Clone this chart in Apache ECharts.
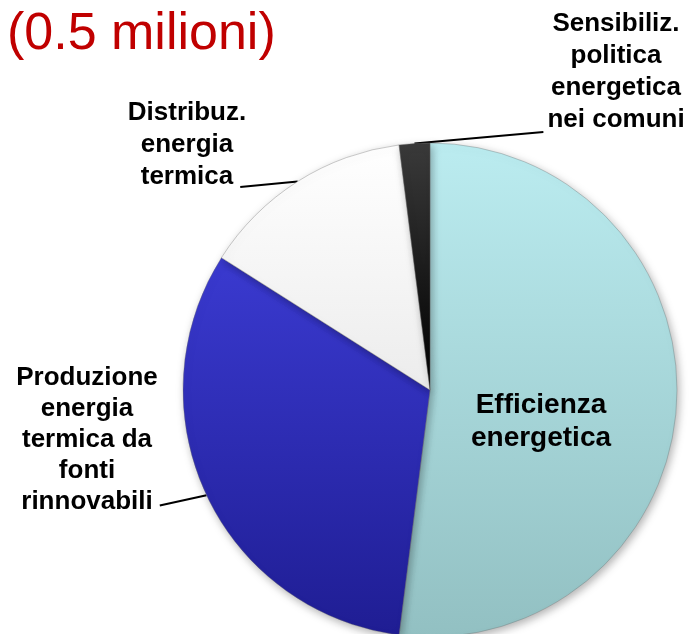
<!DOCTYPE html>
<html>
<head>
<meta charset="utf-8">
<script src="https://cdn.jsdelivr.net/npm/echarts@6/dist/echarts.min.js"></script>
<style>
  html, body { margin: 0; padding: 0; background: #fff; }
  #chart { width: 690px; height: 634px; }
</style>
</head>
<body>
<div id="chart"></div>
<script>
// titolo
var titleText = "(0.5 milioni)";
// categorie
var categories = [
  "Efficienza\nenergetica",
  "Produzione\nenergia\ntermica da\nfonti\nrinnovabili",
  "Distribuz.\nenergia\ntermica",
  "Sensibiliz.\npolitica\nenergetica\nnei comuni"
];
// valori (milioni)
var values = [0.26, 0.16, 0.07, 0.01];

// centro delle etichette
var labelPos = [[541, 422], [87, 440], [187, 145], [616, 72]];
// fine della linea guida, relativa all'angolo basso dell'etichetta (dx, dy); null = nessuna linea
var lineEnd = [null, [2, -12], [-6, -6], [-4, -4]];
// lato: 1 = destra dell'etichetta, -1 = sinistra
var lineSide = [0, 1, 1, -1];
// colori sfumati (alto -> basso)
var sliceColors = [
  ["#bbecf0", "#92c0c2"],
  ["#3a3ad0", "#1f1d93"],
  ["#ffffff", "#ececec"],
  ["#3a3a3a", "#000000"]
];

var pieData = categories.map(function (name, i) {
  var item = {
    name: name,
    value: values[i],
    itemStyle: {
      color: new echarts.graphic.LinearGradient(0, 0, 0, 1, [
        { offset: 0, color: sliceColors[i][0] },
        { offset: 1, color: sliceColors[i][1] }
      ])
    }
  };
  if (i === 0) {
    item.label = { fontSize: 28, lineHeight: 33 };
    item.labelLine = { show: false };
  }
  if (i === 1) {
    item.label = { lineHeight: 31 };
  }
  return item;
});

var myChart = echarts.init(document.getElementById("chart"));
myChart.setOption({
  backgroundColor: "#fff",
  animation: false,
  title: {
    text: titleText,
    left: 2,
    top: 4,
    textStyle: {
      fontFamily: "Liberation Sans",
      fontSize: 52,
      fontWeight: "normal",
      color: "#c00000"
    }
  },
  series: [
    {
      type: "pie",
      center: [430, 390],
      radius: 247,
      startAngle: 90,
      clockwise: true,
      avoidLabelOverlap: false,
      data: pieData,
      itemStyle: {
        borderColor: "rgba(110,110,110,0.45)",
        borderWidth: 0.8,
        shadowBlur: 8,
        shadowColor: "rgba(0,0,0,0.3)",
        shadowOffsetX: 2,
        shadowOffsetY: 3
      },
      label: {
        show: true,
        position: "outside",
        formatter: "{b}",
        fontFamily: "Liberation Sans",
        fontWeight: "bold",
        fontSize: 26,
        lineHeight: 32,
        color: "#000",
        align: "center"
      },
      labelLine: {
        show: true,
        length: 10,
        length2: 10,
        lineStyle: { color: "#000", width: 2 }
      },
      labelLayout: function (params) {
        var i = params.dataIndex;
        var p = labelPos[i];
        var res = { x: p[0], y: p[1], align: "center", verticalAlign: "middle" };
        if (lineEnd[i] && params.labelLinePoints) {
          var start = params.labelLinePoints[0];
          var w = params.labelRect.width;
          var h = params.labelRect.height;
          var cornerX = p[0] + lineSide[i] * w / 2;
          var cornerY = p[1] + h / 2;
          res.labelLinePoints = [start, [cornerX + lineEnd[i][0], cornerY + lineEnd[i][1]]];
        }
        return res;
      },
      emphasis: { disabled: true }
    }
  ]
});
window.addEventListener("resize", function () {
  myChart.resize();
});
</script>
</body>
</html>
